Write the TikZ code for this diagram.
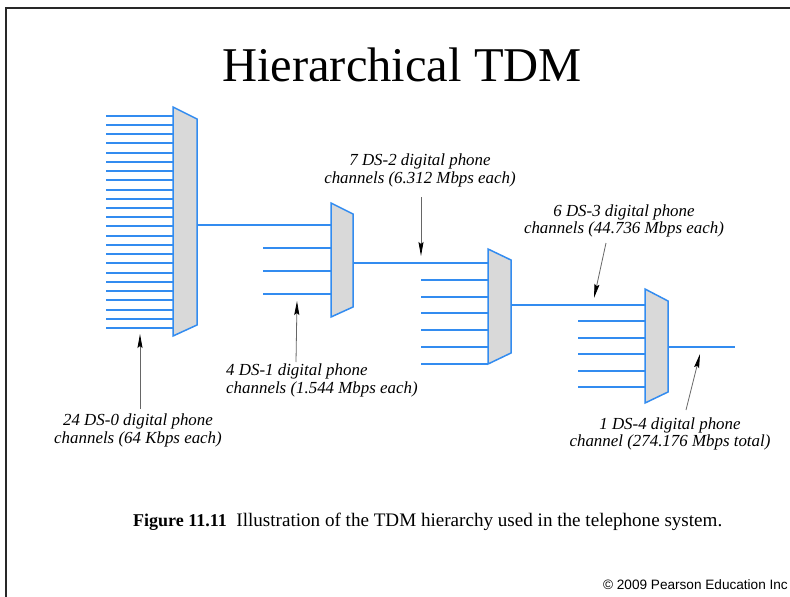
\documentclass[tikz,border=0pt]{standalone}
\usepackage{fontspec}
\setmainfont{Liberation Serif}
\newfontfamily\creditfont{Liberation Sans}
\usetikzlibrary{arrows.meta}

\definecolor{lineblue}{RGB}{51,140,240}
\definecolor{muxgray}{RGB}{217,217,217}
\definecolor{framegray}{RGB}{40,40,40}

\begin{document}
\begin{tikzpicture}[x=1pt,y=-1pt,
  wire/.style={draw=lineblue,line width=1.6pt},
  muxbox/.style={draw=lineblue,fill=muxgray,line width=1.5pt,line join=miter},
  pointer/.style={draw=black!60,line width=0.8pt,
    -{Stealth[length=14pt,width=5pt,inset=2pt,black]}},
  note/.style={font=\fontsize{16.9}{17.5}\selectfont\itshape,inner sep=0pt},
]
\useasboundingbox (0,0) rectangle (790,597);

% slide frame
\draw[framegray,line width=2pt] (6,597) -- (6,8) -- (790,8);

% title
\node[anchor=base,inner sep=0pt,font=\fontsize{48.5}{50}\selectfont] (title) at (402,81) {Hierarchical TDM};

% ---- multiplexer 1: 24 inputs ----
\foreach \k in {0,...,23} {
  \pgfmathsetmacro\yy{round(115.7+9.23*\k)}
  \draw[wire] (106,\yy) -- (173,\yy);
}
\draw[muxbox] (173,107) -- (197,119) -- (197,325) -- (173,336) -- cycle;
\coordinate (m1out) at (197,225);

% ---- multiplexer 2: 4 inputs ----
\coordinate (m2in) at (331,225);
\foreach \y in {248,271,294}
  \draw[wire] (263,\y) -- (331,\y);
\draw[muxbox] (331,203) -- (353,214) -- (353,307) -- (331,317) -- cycle;
\coordinate (m2out) at (353,263);

% ---- multiplexer 3: 7 inputs ----
\coordinate (m3in) at (488,263);
\foreach \k in {1,...,6} {
  \pgfmathsetmacro\yy{round(263+16.8*\k)}
  \draw[wire] (421,\yy) -- (488,\yy);
}
\draw[muxbox] (488,249) -- (511,260) -- (511,353) -- (488,364) -- cycle;
\coordinate (m3out) at (511,305);

% ---- multiplexer 4: 6 inputs ----
\coordinate (m4in) at (645,305);
\foreach \k in {1,...,5} {
  \pgfmathsetmacro\yy{round(305+16.4*\k)}
  \draw[wire] (578,\yy) -- (645,\yy);
}
\draw[muxbox] (645,289) -- (668,301) -- (668,392) -- (645,403) -- cycle;
\coordinate (m4out) at (668,347);
\coordinate (trunk) at (735,347);

% links between the stages
\draw[wire] (m1out) -- (m2in);
\draw[wire] (m2out) -- (m3in);
\draw[wire] (m3out) -- (m4in);
\draw[wire] (m4out) -- (trunk);

% labels
\node[note,align=center] (ds0) at (138,430.5) {24 DS-0 digital phone\\channels (64 Kbps each)};
\node[note,align=left,anchor=west] (ds1) at (226,380.5) {4 DS-1 digital phone\\channels (1.544 Mbps each)};
\node[note,align=center] (ds2) at (420,170.5) {7 DS-2 digital phone\\channels (6.312 Mbps each)};
\node[note,align=center] (ds3) at (624,221) {6 DS-3 digital phone\\channels (44.736 Mbps each)};
\node[note,align=center] (ds4) at (670,434) {1 DS-4 digital phone\\channel (274.176 Mbps total)};

% pointers from the labels
\coordinate (p1a) at (140,409); \coordinate (p1b) at (140,334);
\coordinate (p2a) at (296,362); \coordinate (p2b) at (297,301);
\coordinate (p3a) at (421,197); \coordinate (p3b) at (421,256);
\coordinate (p4a) at (606,243); \coordinate (p4b) at (594,298);
\coordinate (p5a) at (686,410); \coordinate (p5b) at (700,354);
\draw[pointer] (p1a) -- (p1b);
\draw[pointer] (p2a) -- (p2b);
\draw[pointer] (p3a) -- (p3b);
\draw[pointer] (p4a) -- (p4b);
\draw[pointer] (p5a) -- (p5b);

% caption
\node[anchor=base west,inner sep=0pt,font=\fontsize{19.1}{21}\selectfont] (caption) at (133,526)
  {{\fontsize{18}{20}\selectfont\bfseries Figure 11.11}\hspace{0.5em}Illustration of the TDM hierarchy used in the telephone system.};

% credit line
\node[anchor=base east,inner sep=0pt,font=\creditfont\fontsize{13.6}{15}\selectfont] (credit) at (788,589)
  {© 2009 Pearson Education Inc};
\end{tikzpicture}
\end{document}
